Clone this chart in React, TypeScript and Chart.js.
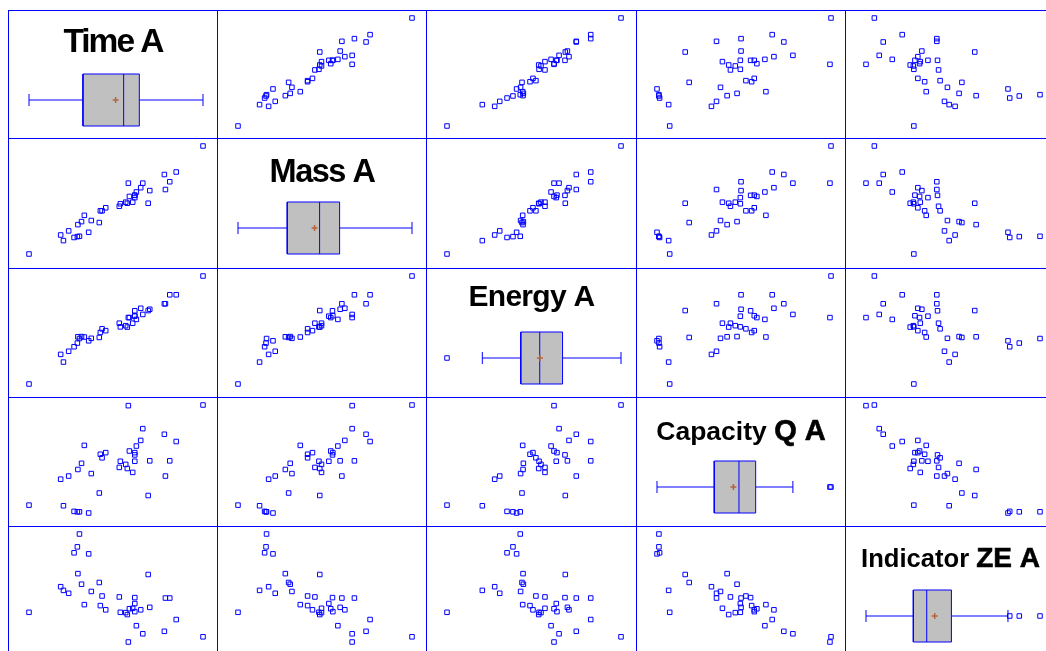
import React, { useEffect, useRef } from "react";
import { Chart, registerables } from "chart.js";

Chart.register(...registerables);

// ---------------- data (normalised 0..100 per variable) ----------------
const titleMain = ["Time A", "Mass A", "Energy A", "Capacity", "Indicator"];
const titleTail = ["", "", "", "Q A", "ZE A"];

const timeA = [100, 84.6, 80.9, 78.4, 77.8, 69.4, 68.5, 65.4, 64.2, 61.7, 60.8, 60.8, 60.8, 59.6, 57.7, 57.1, 56.5, 55.6, 52.5, 51.9, 44.1, 42.0, 41.0, 40.4, 35.8, 34.3, 31.8, 30.2, 29.0, 28.1, 27.8, 25.9, 22.8, 19.8, 18.2, 0];
const massA = [100, 75.9, 66.9, 59.7, 73.6, 58.7, 47.0, 65.6, 61.4, 57.4, 52.2, 54.5, 54.3, 48.0, 53.3, 65.6, 47.0, 48.0, 46.5, 44.2, 42.8, 40.0, 40.0, 29.1, 31.0, 20.1, 35.8, 30.0, 16.4, 27.2, 16.1, 15.3, 21.4, 12.4, 17.6, 0];
const energyA = [100, 82.6, 82.6, 74.3, 74.3, 69.2, 68.0, 64.4, 70.1, 59.8, 62.8, 63.2, 67.8, 56.3, 61.5, 61.5, 52.7, 54.0, 52.9, 56.3, 49.4, 51.1, 47.7, 43.1, 42.3, 40.0, 43.5, 43.9, 42.1, 43.7, 37.9, 34.5, 30.3, 20.3, 27.4, 0];
const capacityQA = [100, 66.2, 48.3, 34.2, 72.9, 48.3, 16.2, 78.1, 67.2, 62.0, 47.9, 55.9, 53.8, 37.6, 57.4, 99.4, 41.2, 45.0, 47.9, 42.2, 55.9, 51.1, 54.4, 18.5, 36.5, 0, 62.6, 46.0, 1.1, 40.3, 1.1, 1.5, 34.2, 6.7, 31.3, 7.3];
const indicatorZEA = [4.8, 20.8, 40.7, 40.7, 9.9, 32.1, 62.5, 7.6, 29.8, 15.1, 35.6, 28.1, 41.1, 31.2, 30.8, 0, 25.4, 27.2, 27.5, 41.7, 29.8, 42.6, 33.7, 55.1, 46.8, 81.6, 34.6, 53.5, 100, 63.3, 88.1, 82.6, 45.1, 47.8, 51.2, 27.5];

// box plot statistics
const boxMin = [0, 0, 20.3, 0, 0];
const boxQ1 = [31.0, 28.3, 42.4, 32.9, 27.2];
const boxMedian = [54.4, 46.9, 53.3, 47.1, 34.9];
const boxQ3 = [63.4, 58.4, 66.4, 56.7, 49.1];
const boxMax = [100, 100, 100, 78.1, 81.6];
const boxMean = [49.8, 44.0, 53.4, 43.9, 39.5];
const boxOutliers = [[], [], [0], [99.4, 100], [82.6, 88.1, 100]];

const series = [timeA, massA, energyA, capacityQA, indicatorZEA];

// ---------------- layout / style ----------------
const BLUE = "#0000ff";
const BROWN = "#b4643c";
const COL_LEFT = [0, 209, 418, 628, 837];
const COL_WIDTH = [209, 209, 210, 209, 210];
const ROW_TOP = [0, 128, 258, 387, 516];
const ROW_HEIGHT = [128, 130, 129, 129, 130];

const X_PX_PER_UNIT = 1.74;
const X_ZERO_OFFSET = 20;
const Y_PX_PER_UNIT = 1.08;
const Y_TOP_OFFSET = 7;

const BOX_CENTER = 89;
const BOX_HALF = 26;
const CAP_HALF = 6;
const POINT_RADIUS = 3.2;

const titleSize = [33.5, 32.5, 30, 26.5, 25.6];
const tailSize = [0, 0, 0, 29, 28];
const titleSpacing = [-2, -1.5, -0.7, 0, 0];
const titleBaseline = [41, 43, 37, 42, 40];
const FONT = '"Liberation Sans", Arial, Helvetica, sans-serif';

function xScale(innerW: number) {
  const min = -X_ZERO_OFFSET / X_PX_PER_UNIT;
  return { type: "linear" as const, display: false, min, max: min + innerW / X_PX_PER_UNIT };
}

function baseOptions(innerW: number, yMin: number, yMax: number) {
  return {
    animation: false as const,
    responsive: false,
    devicePixelRatio: 1,
    events: [] as any[],
    layout: { padding: 0, autoPadding: false },
    plugins: { legend: { display: false }, tooltip: { enabled: false }, title: { display: false } },
    scales: {
      x: xScale(innerW),
      y: { type: "linear" as const, display: false, min: yMin, max: yMax },
    },
  };
}

function scatterConfig(row: number, col: number, w: number, h: number): any {
  const xs = series[col];
  const ys = series[row];
  const yMax = 100 + Y_TOP_OFFSET / Y_PX_PER_UNIT;
  const yMin = yMax - h / Y_PX_PER_UNIT;
  return {
    type: "scatter",
    data: {
      datasets: [
        {
          data: xs.map((x, i) => ({ x, y: ys[i] })),
          pointStyle: "rect",
          pointRadius: POINT_RADIUS,
          borderWidth: 1,
          borderColor: BLUE,
          backgroundColor: "rgba(0,0,0,0)",
        },
      ],
    },
    options: baseOptions(w, yMin, yMax),
  };
}

function titlePlugin(k: number) {
  return {
    id: "diagTitle" + k,
    afterDraw(chart: any) {
      const ctx = chart.ctx as CanvasRenderingContext2D;
      ctx.save();
      ctx.fillStyle = "#000";
      ctx.textBaseline = "alphabetic";
      ctx.textAlign = "left";
      const mainFont = `bold ${titleSize[k]}px ${FONT}`;
      ctx.font = mainFont;
      (ctx as any).letterSpacing = `${titleSpacing[k]}px`;
      const mainW = ctx.measureText(titleMain[k]).width;
      let gap = 0;
      let tailW = 0;
      const tailFont = `bold ${tailSize[k]}px ${FONT}`;
      if (titleTail[k]) {
        gap = ctx.measureText(" ").width;
        ctx.font = tailFont;
        (ctx as any).letterSpacing = "0px";
        tailW = ctx.measureText(titleTail[k]).width;
      }
      const total = mainW + gap + tailW;
      const x0 = (chart.width - total) / 2;
      const yb = titleBaseline[k];
      ctx.font = mainFont;
      (ctx as any).letterSpacing = `${titleSpacing[k]}px`;
      ctx.fillText(titleMain[k], x0, yb);
      if (titleTail[k]) {
        ctx.font = tailFont;
        (ctx as any).letterSpacing = "0px";
        ctx.fillText(titleTail[k], x0 + mainW + gap, yb);
        ctx.lineWidth = 0.6;
        ctx.strokeStyle = "#000";
        ctx.strokeText(titleTail[k], x0 + mainW + gap, yb);
      }
      ctx.restore();
    },
  };
}

function diagConfig(k: number, w: number, h: number): any {
  const yMax = BOX_CENTER / BOX_HALF;
  const yMin = yMax - h / BOX_HALF;
  const cap = CAP_HALF / BOX_HALF;
  const line = { pointRadius: 0, borderColor: BLUE, borderWidth: 1, fill: false, tension: 0 };
  return {
    type: "line",
    data: {
      datasets: [
        {
          data: boxOutliers[k].map((v) => ({ x: v, y: 0 })),
          showLine: false,
          pointStyle: "rect",
          pointRadius: POINT_RADIUS,
          borderWidth: 1,
          borderColor: BLUE,
          backgroundColor: "rgba(0,0,0,0)",
        },
        {
          data: [{ x: boxMean[k], y: 0 }],
          showLine: false,
          pointStyle: "cross",
          pointRadius: 3,
          borderWidth: 1.5,
          borderColor: BROWN,
        },
        { ...line, data: [{ x: boxMedian[k], y: -1 }, { x: boxMedian[k], y: 1 }] },
        {
          ...line,
          data: [
            { x: boxQ1[k], y: -1 },
            { x: boxQ3[k], y: -1 },
            { x: boxQ3[k], y: 1 },
            { x: boxQ1[k], y: 1 },
            { x: boxQ1[k], y: -1 },
          ],
          fill: "shape",
          backgroundColor: "#c0c0c0",
        },
        { ...line, data: [{ x: boxMin[k], y: -cap }, { x: boxMin[k], y: cap }] },
        { ...line, data: [{ x: boxMax[k], y: -cap }, { x: boxMax[k], y: cap }] },
        { ...line, data: [{ x: boxMin[k], y: 0 }, { x: boxMax[k], y: 0 }] },
      ],
    },
    options: baseOptions(w, yMin, yMax),
    plugins: [titlePlugin(k)],
  };
}

function Cell({ row, col }: { row: number; col: number }) {
  const ref = useRef<HTMLCanvasElement>(null);
  const w = COL_WIDTH[col] - 1;
  const h = ROW_HEIGHT[row] - 1;
  useEffect(() => {
    if (!ref.current) return;
    const cfg = row === col ? diagConfig(row, w, h) : scatterConfig(row, col, w, h);
    const chart = new Chart(ref.current, cfg);
    return () => chart.destroy();
  }, [row, col, w, h]);
  return (
    <div
      style={{
        position: "absolute",
        left: COL_LEFT[col],
        top: ROW_TOP[row],
        width: COL_WIDTH[col],
        height: ROW_HEIGHT[row],
        borderLeft: `1px solid ${BLUE}`,
        borderTop: `1px solid ${BLUE}`,
        boxSizing: "border-box",
      }}
    >
      <canvas ref={ref} width={w} height={h} style={{ display: "block", width: w, height: h }} />
    </div>
  );
}

export default function App() {
  const cells: React.ReactElement[] = [];
  for (let r = 0; r < 5; r++) {
    for (let c = 0; c < 5; c++) {
      cells.push(<Cell key={`${r}-${c}`} row={r} col={c} />);
    }
  }
  return (
    <div
      style={{
        position: "fixed",
        left: 0,
        top: 0,
        width: 1046,
        height: 651,
        overflow: "hidden",
        background: "#fff",
      }}
    >
      <div style={{ position: "absolute", left: 8, top: 10, width: 1050, height: 650 }}>{cells}</div>
    </div>
  );
}
